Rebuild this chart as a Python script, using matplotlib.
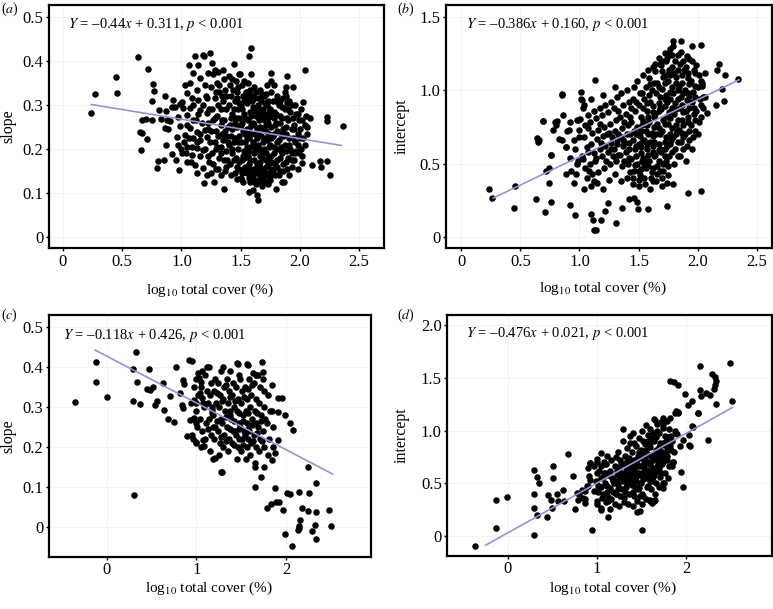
import matplotlib
matplotlib.use('Agg')
import matplotlib.pyplot as plt

plt.rcParams['font.family'] = ['Liberation Serif', 'DejaVu Serif']
plt.rcParams['mathtext.fontset'] = 'stix'

# ---------------- data ----------------
# (a) slope vs log10 total cover
a_points = [
    (0.24, 0.282), (0.27, 0.325), (0.45, 0.364), (0.453, 0.326), (0.636, 0.408), (0.72, 0.381),
    (0.76, 0.347), (0.77, 0.332), (0.75, 0.309), (0.86, 0.32), (0.81, 0.289), (0.87, 0.287),
    (0.67, 0.266), (0.70, 0.269), (0.75, 0.266), (0.825, 0.267), (0.875, 0.266), (0.90, 0.264),
    (0.65, 0.239), (0.67, 0.237), (0.712, 0.222), (0.66, 0.198), (0.865, 0.248), (0.89, 0.245),
    (0.87, 0.209), (0.80, 0.173), (0.853, 0.176), (0.79, 0.156), (0.92, 0.189), (0.98, 0.152),
    (0.955, 0.175), (0.918, 0.296), (0.946, 0.296), (0.93, 0.311), (0.99, 0.303),
    (1.115, 0.41), (1.143, 0.391), (1.185, 0.414), (1.067, 0.391), (1.10, 0.372), (1.157, 0.361),
    (1.073, 0.349), (1.03, 0.345), (1.199, 0.345), (1.227, 0.372), (1.129, 0.334), (1.044, 0.326),
    (1.087, 0.315), (1.002, 0.307), (1.143, 0.311), (1.213, 0.315), (1.016, 0.292), (1.073, 0.292),
    (1.157, 0.289), (1.213, 0.281), (0.974, 0.273), (1.044, 0.277), (1.10, 0.266), (1.171, 0.258),
    (1.227, 0.258), (0.988, 0.251), (1.073, 0.247), (1.129, 0.239), (1.199, 0.243), (0.96, 0.228),
    (1.03, 0.232), (1.10, 0.224), (1.157, 0.22), (1.213, 0.228), (0.974, 0.209), (1.044, 0.205),
    (1.129, 0.201), (1.185, 0.198), (1.002, 0.19), (1.087, 0.186), (1.157, 0.183), (1.227, 0.183),
    (1.044, 0.171), (1.115, 0.163), (1.185, 0.156), (1.129, 0.145), (1.213, 0.141), (1.19, 0.122),
    (1.02, 0.215), (1.06, 0.225), (1.09, 0.205), (1.12, 0.265), (1.14, 0.28), (1.18, 0.30),
    (1.21, 0.32), (1.05, 0.255), (1.16, 0.235), (1.20, 0.20), (1.23, 0.17), (1.10, 0.30),
    (1.00, 0.20), (1.04, 0.19), (1.08, 0.17), (1.13, 0.215),
    (1.585, 0.429), (1.574, 0.411), (1.444, 0.393), (1.495, 0.37), (1.585, 0.37), (1.757, 0.372),
    (1.89, 0.366), (2.04, 0.379), (1.94, 0.34), (1.88, 0.34), (2.227, 0.272), (2.23, 0.264),
    (2.362, 0.253), (2.086, 0.27), (2.024, 0.307), (2.05, 0.274), (2.057, 0.249), (2.23, 0.173),
    (2.17, 0.173), (2.18, 0.158), (2.25, 0.141), (2.02, 0.167), (2.10, 0.164), (2.04, 0.208),
    (1.636, 0.095), (1.645, 0.084), (1.60, 0.107), (1.566, 0.103), (1.355, 0.11), (1.276, 0.125),
    (1.467, 0.131), (1.50, 0.131), (1.73, 0.12), (1.80, 0.11), (1.867, 0.125), (1.24, 0.418),
    (1.19, 0.41), (1.35, 0.38), (1.49, 0.37),
    (1.26, 0.395), (1.27, 0.37), (1.25, 0.34), (1.28, 0.315), (1.26, 0.29), (1.27, 0.265),
    (1.25, 0.24), (1.28, 0.215), (1.26, 0.19), (1.27, 0.165), (1.25, 0.145),
    (1.31, 0.375), (1.30, 0.35), (1.32, 0.33), (1.31, 0.30), (1.30, 0.275), (1.33, 0.255),
    (1.31, 0.23), (1.30, 0.205), (1.32, 0.18), (1.31, 0.155), (1.33, 0.14),
    (1.36, 0.36), (1.37, 0.335), (1.35, 0.31), (1.38, 0.29), (1.36, 0.265), (1.37, 0.24),
    (1.35, 0.22), (1.38, 0.195), (1.36, 0.175), (1.37, 0.15),
    (1.41, 0.345), (1.42, 0.32), (1.40, 0.30), (1.43, 0.28), (1.41, 0.255), (1.42, 0.23),
    (1.40, 0.21), (1.43, 0.19), (1.41, 0.165), (1.42, 0.14), (1.40, 0.365),
    (1.46, 0.355), (1.47, 0.33), (1.45, 0.31), (1.48, 0.29), (1.46, 0.27), (1.47, 0.25),
    (1.45, 0.225), (1.48, 0.20), (1.46, 0.18), (1.47, 0.16), (1.45, 0.145),
    (1.51, 0.345), (1.52, 0.32), (1.50, 0.30), (1.53, 0.28), (1.51, 0.26), (1.52, 0.24),
    (1.50, 0.215), (1.53, 0.195), (1.51, 0.175), (1.52, 0.155), (1.50, 0.135), (1.53, 0.31),
    (1.56, 0.35), (1.57, 0.325), (1.55, 0.305), (1.58, 0.285), (1.56, 0.265), (1.57, 0.245),
    (1.55, 0.225), (1.58, 0.205), (1.56, 0.185), (1.57, 0.165), (1.55, 0.145), (1.58, 0.125),
    (1.57, 0.225), (1.55, 0.19),
    (1.61, 0.34), (1.62, 0.315), (1.60, 0.295), (1.63, 0.275), (1.61, 0.255), (1.62, 0.235),
    (1.60, 0.215), (1.63, 0.195), (1.61, 0.175), (1.62, 0.155), (1.60, 0.135), (1.63, 0.12),
    (1.62, 0.21), (1.60, 0.32),
    (1.66, 0.335), (1.67, 0.31), (1.65, 0.29), (1.68, 0.27), (1.66, 0.25), (1.67, 0.23),
    (1.65, 0.21), (1.68, 0.19), (1.66, 0.17), (1.67, 0.15), (1.65, 0.13), (1.68, 0.115),
    (1.66, 0.20), (1.67, 0.28),
    (1.71, 0.325), (1.72, 0.30), (1.70, 0.28), (1.73, 0.26), (1.71, 0.24), (1.72, 0.22),
    (1.70, 0.20), (1.73, 0.18), (1.71, 0.16), (1.72, 0.14), (1.70, 0.125), (1.72, 0.345),
    (1.71, 0.19),
    (1.76, 0.33), (1.77, 0.31), (1.75, 0.29), (1.78, 0.27), (1.76, 0.25), (1.77, 0.23),
    (1.75, 0.21), (1.78, 0.19), (1.76, 0.17), (1.77, 0.15), (1.75, 0.13), (1.76, 0.355),
    (1.81, 0.32), (1.82, 0.30), (1.80, 0.28), (1.83, 0.26), (1.81, 0.24), (1.82, 0.22),
    (1.80, 0.20), (1.83, 0.18), (1.81, 0.16), (1.82, 0.14),
    (1.86, 0.315), (1.87, 0.29), (1.85, 0.27), (1.88, 0.25), (1.86, 0.23), (1.87, 0.21),
    (1.85, 0.19), (1.88, 0.17), (1.86, 0.15), (1.87, 0.33),
    (1.91, 0.31), (1.92, 0.285), (1.90, 0.265), (1.93, 0.245), (1.91, 0.225), (1.92, 0.20),
    (1.90, 0.18), (1.93, 0.16), (1.91, 0.14),
    (1.96, 0.30), (1.97, 0.28), (1.95, 0.255), (1.98, 0.235), (1.96, 0.215), (1.97, 0.195),
    (1.95, 0.175), (1.98, 0.155),
    (2.01, 0.29), (2.02, 0.265), (2.00, 0.245), (2.03, 0.225), (2.01, 0.20), (2.02, 0.185),
    (2.04, 0.255), (2.06, 0.235),
    (1.285, 0.38), (1.29, 0.24), (1.335, 0.205), (1.345, 0.32), (1.39, 0.25), (1.385, 0.175),
    (1.435, 0.335), (1.44, 0.215), (1.485, 0.27), (1.49, 0.17), (1.535, 0.235), (1.54, 0.16),
    (1.545, 0.33), (1.585, 0.255), (1.59, 0.145), (1.595, 0.31), (1.635, 0.225), (1.64, 0.165),
    (1.645, 0.30), (1.685, 0.245), (1.69, 0.135), (1.695, 0.32), (1.735, 0.205), (1.74, 0.285),
    (1.745, 0.145), (1.785, 0.235), (1.79, 0.165), (1.795, 0.31), (1.835, 0.275), (1.84, 0.195),
    (1.845, 0.125), (1.885, 0.235), (1.89, 0.305), (1.935, 0.19), (1.94, 0.27), (1.985, 0.21),
    (1.99, 0.265), (1.555, 0.205), (1.615, 0.19), (1.665, 0.185), (1.705, 0.225), (1.755, 0.185),
    (1.32, 0.345), (1.34, 0.265), (1.33, 0.19), (1.38, 0.32), (1.39, 0.215), (1.38, 0.16),
    (1.43, 0.36), (1.44, 0.29), (1.43, 0.245), (1.44, 0.175), (1.48, 0.34), (1.49, 0.23),
    (1.48, 0.155), (1.49, 0.305), (1.53, 0.355), (1.54, 0.27), (1.53, 0.18), (1.54, 0.215),
    (1.58, 0.335), (1.59, 0.235), (1.58, 0.175), (1.59, 0.275), (1.58, 0.155), (1.63, 0.33),
    (1.64, 0.245), (1.63, 0.145), (1.64, 0.285), (1.63, 0.205), (1.68, 0.325), (1.69, 0.215),
    (1.68, 0.155), (1.69, 0.29), (1.68, 0.18), (1.73, 0.31), (1.74, 0.235), (1.73, 0.165),
    (1.74, 0.13), (1.73, 0.27), (1.78, 0.345), (1.79, 0.255), (1.78, 0.205), (1.79, 0.14),
    (1.78, 0.285), (1.83, 0.31), (1.84, 0.235), (1.83, 0.15), (1.84, 0.205), (1.88, 0.32),
    (1.89, 0.27), (1.88, 0.195), (1.89, 0.155), (1.93, 0.30), (1.94, 0.225), (1.93, 0.175),
    (1.98, 0.28), (1.99, 0.19), (2.00, 0.225), (1.29, 0.33), (1.28, 0.27), (1.29, 0.155),
    (1.23, 0.29), (1.22, 0.245), (1.24, 0.215), (1.52, 0.125), (1.57, 0.135), (1.62, 0.125),
    (1.66, 0.14), (1.71, 0.145), (1.76, 0.14), (1.60, 0.26), (1.65, 0.235), (1.70, 0.265),
    (1.55, 0.245), (1.50, 0.255), (1.45, 0.26),
    (1.465, 0.315), (1.475, 0.215), (1.515, 0.29), (1.52, 0.185), (1.565, 0.315), (1.565, 0.235),
    (1.57, 0.195), (1.605, 0.285), (1.61, 0.205), (1.615, 0.155), (1.655, 0.265), (1.655, 0.315),
    (1.66, 0.16), (1.705, 0.305), (1.71, 0.255), (1.71, 0.175), (1.75, 0.275), (1.755, 0.225),
    (1.755, 0.155), (1.80, 0.26), (1.805, 0.215), (1.81, 0.175), (1.85, 0.295), (1.855, 0.245),
    (1.86, 0.165), (1.90, 0.29), (1.905, 0.21), (1.95, 0.245), (1.955, 0.19), (1.42, 0.27),
    (1.43, 0.20), (1.38, 0.23), (1.335, 0.29), (1.34, 0.235), (1.29, 0.20), (1.605, 0.145),
    (1.655, 0.125), (1.70, 0.145), (1.565, 0.155), (1.515, 0.145),
]
a_line_x = [0.24, 2.35]
a_line_y = [0.301, 0.208]

# (b) intercept vs log10 total cover
b_points = [
    (0.236, 0.324), (0.26, 0.265), (0.45, 0.35), (0.447, 0.195), (0.63, 0.26), (0.652, 0.649),
    (0.643, 0.672), (0.69, 0.792), (0.71, 0.168), (0.72, 0.452), (0.74, 0.472), (0.74, 0.37),
    (0.756, 0.238), (0.758, 0.558), (0.848, 0.971), (0.79, 0.783), (0.80, 0.76), (0.854, 0.66),
    (0.888, 0.61), (0.888, 0.43), (0.896, 0.724), (0.921, 0.216), (0.952, 0.37), (0.963, 0.15),
    (0.986, 0.52), (0.972, 0.427), (1.014, 0.987), (1.014, 0.937), (1.006, 0.805), (0.98, 0.797),
    (1.03, 0.876), (1.096, 0.154), (1.112, 0.116), (1.126, 0.048), (1.143, 0.048), (1.129, 1.069),
    (1.18, 0.116), (1.216, 0.18), (1.24, 0.234), (1.31, 0.093), (1.357, 0.195), (1.416, 0.256),
    (1.497, 0.19), (1.458, 0.265), (1.49, 0.24), (1.584, 0.19), (1.744, 0.211), (1.74, 0.365),
    (1.79, 0.36), (1.92, 0.302), (2.025, 0.315), (2.04, 1.046), (1.927, 1.214), (2.025, 1.305),
    (1.955, 1.302), (1.857, 1.332), (1.79, 1.332), (2.18, 1.178), (2.166, 1.137), (2.21, 1.01),
    (2.22, 0.928), (2.23, 1.10), (2.345, 1.073), (2.16, 0.896), (2.076, 0.842), (2.05, 0.955),
    (0.85, 0.97), (1.02, 0.93), (0.69, 0.79), (0.81, 0.79), (0.86, 0.83), (0.91, 0.729),
    (0.66, 0.66), (0.776, 0.729), (0.826, 0.664), (0.89, 0.615), (0.76, 0.558), (0.916, 0.535),
    (0.99, 0.795), (1.00, 0.729), (1.074, 0.739), (0.93, 0.45), (0.96, 0.60), (1.00, 0.68),
    (0.98, 0.50), (1.02, 0.55), (0.95, 0.66), (0.92, 0.78),
    (1.04, 0.33), (1.06, 0.40), (1.05, 0.47), (1.03, 0.53), (1.06, 0.61), (1.04, 0.68),
    (1.05, 0.76), (1.07, 0.83), (1.04, 0.90),
    (1.10, 0.35), (1.11, 0.43), (1.09, 0.50), (1.12, 0.57), (1.10, 0.63), (1.11, 0.71),
    (1.09, 0.78), (1.12, 0.86), (1.10, 0.94),
    (1.15, 0.37), (1.16, 0.44), (1.14, 0.54), (1.17, 0.60), (1.15, 0.67), (1.16, 0.73),
    (1.14, 0.81), (1.17, 0.88),
    (1.20, 0.33), (1.21, 0.47), (1.19, 0.55), (1.22, 0.62), (1.20, 0.69), (1.21, 0.75),
    (1.19, 0.83), (1.22, 0.90), (1.20, 0.97),
    (1.25, 0.39), (1.26, 0.50), (1.24, 0.58), (1.27, 0.64), (1.25, 0.71), (1.26, 0.77),
    (1.24, 0.85), (1.27, 0.92),
    (1.30, 0.43), (1.31, 0.52), (1.29, 0.60), (1.32, 0.66), (1.30, 0.72), (1.31, 0.80),
    (1.29, 0.88), (1.32, 0.95), (1.30, 1.02),
    (1.35, 0.38), (1.36, 0.48), (1.34, 0.56), (1.37, 0.62), (1.35, 0.68), (1.36, 0.74),
    (1.34, 0.82), (1.37, 0.90), (1.35, 0.98),
    (1.40, 0.40), (1.41, 0.50), (1.39, 0.58), (1.42, 0.64), (1.40, 0.70), (1.41, 0.76),
    (1.39, 0.84), (1.42, 0.92), (1.40, 1.00),
    (1.45, 0.36), (1.46, 0.45), (1.44, 0.53), (1.47, 0.60), (1.45, 0.66), (1.46, 0.72),
    (1.44, 0.78), (1.47, 0.86), (1.45, 0.94), (1.46, 1.02),
    (1.50, 0.35), (1.51, 0.42), (1.49, 0.50), (1.52, 0.57), (1.50, 0.63), (1.51, 0.69),
    (1.49, 0.75), (1.52, 0.82), (1.50, 0.90), (1.51, 0.98), (1.49, 1.06),
    (1.55, 0.40), (1.56, 0.47), (1.54, 0.54), (1.57, 0.60), (1.55, 0.66), (1.56, 0.72),
    (1.54, 0.79), (1.57, 0.86), (1.55, 0.94), (1.56, 1.02), (1.54, 1.10),
    (1.60, 0.33), (1.61, 0.44), (1.59, 0.52), (1.62, 0.58), (1.60, 0.65), (1.61, 0.71),
    (1.59, 0.78), (1.62, 0.85), (1.60, 0.92), (1.61, 1.00), (1.59, 1.08), (1.62, 1.16),
    (1.65, 0.38), (1.66, 0.48), (1.64, 0.56), (1.67, 0.63), (1.65, 0.70), (1.66, 0.77),
    (1.64, 0.84), (1.67, 0.91), (1.65, 0.98), (1.66, 1.05), (1.64, 1.13), (1.67, 1.22),
    (1.70, 0.40), (1.71, 0.50), (1.69, 0.58), (1.72, 0.65), (1.70, 0.72), (1.71, 0.80),
    (1.69, 0.87), (1.72, 0.94), (1.70, 1.01), (1.71, 1.09), (1.69, 1.17), (1.72, 1.25),
    (1.75, 0.42), (1.76, 0.55), (1.74, 0.62), (1.77, 0.70), (1.75, 0.77), (1.76, 0.85),
    (1.74, 0.92), (1.77, 0.99), (1.75, 1.06), (1.76, 1.14), (1.74, 1.22), (1.77, 1.28),
    (1.80, 0.50), (1.81, 0.60), (1.79, 0.68), (1.82, 0.76), (1.80, 0.84), (1.81, 0.91),
    (1.79, 0.98), (1.82, 1.05), (1.80, 1.12), (1.81, 1.20), (1.79, 1.30),
    (1.85, 0.55), (1.86, 0.65), (1.84, 0.73), (1.87, 0.80), (1.85, 0.88), (1.86, 0.95),
    (1.84, 1.02), (1.87, 1.10), (1.85, 1.18), (1.86, 1.26),
    (1.90, 0.52), (1.91, 0.62), (1.89, 0.70), (1.92, 0.78), (1.90, 0.86), (1.91, 0.93),
    (1.89, 1.00), (1.92, 1.08), (1.90, 1.16), (1.91, 1.23),
    (1.95, 0.60), (1.96, 0.68), (1.94, 0.76), (1.97, 0.84), (1.95, 0.92), (1.96, 0.99),
    (1.94, 1.06), (1.97, 1.14), (1.95, 1.20),
    (2.00, 0.70), (2.01, 0.78), (1.99, 0.86), (2.02, 0.94), (2.00, 1.02), (2.01, 1.10),
    (1.99, 1.17), (2.05, 0.88), (2.06, 0.95), (2.04, 1.03), (2.06, 1.12),
    (1.075, 0.58), (1.125, 0.38), (1.175, 0.77), (1.225, 0.52), (1.275, 0.68), (1.325, 0.56),
    (1.375, 0.78), (1.425, 0.44), (1.475, 0.70), (1.525, 0.46), (1.535, 0.88), (1.575, 0.63),
    (1.585, 0.97), (1.625, 0.47), (1.63, 0.75), (1.675, 0.52), (1.68, 0.88), (1.685, 1.18),
    (1.725, 0.60), (1.73, 0.97), (1.735, 1.20), (1.775, 0.66), (1.78, 0.88), (1.785, 1.16),
    (1.825, 0.72), (1.83, 1.00), (1.835, 1.24), (1.875, 0.60), (1.88, 0.85), (1.885, 1.14),
    (1.925, 0.66), (1.93, 0.96), (1.975, 0.72), (1.98, 1.03), (2.025, 0.82), (1.655, 0.43),
    (1.705, 0.45), (1.605, 0.40), (1.555, 0.36), (1.505, 0.39),
    (1.08, 0.45), (1.13, 0.52), (1.18, 0.64), (1.23, 0.70), (1.28, 0.55), (1.33, 0.70),
    (1.33, 0.86), (1.38, 0.52), (1.38, 0.65), (1.43, 0.70), (1.43, 0.82), (1.48, 0.55),
    (1.48, 0.62), (1.48, 0.92), (1.53, 0.52), (1.53, 0.65), (1.53, 0.76), (1.58, 0.48),
    (1.58, 0.56), (1.58, 0.70), (1.58, 0.82), (1.63, 0.55), (1.63, 0.65), (1.63, 0.82),
    (1.63, 1.05), (1.68, 0.45), (1.68, 0.60), (1.68, 0.70), (1.68, 0.95), (1.73, 0.52),
    (1.73, 0.68), (1.73, 0.82), (1.73, 1.10), (1.78, 0.58), (1.78, 0.74), (1.78, 1.02),
    (1.78, 1.24), (1.83, 0.65), (1.83, 0.80), (1.83, 0.94), (1.83, 1.14), (1.88, 0.68),
    (1.88, 0.76), (1.88, 0.98), (1.88, 1.20), (1.93, 0.72), (1.93, 0.88), (1.93, 1.04),
    (1.98, 0.80), (1.98, 0.95), (1.98, 1.12), (2.03, 0.90), (2.03, 1.06), (1.45, 0.40),
    (1.50, 0.45), (1.55, 0.50), (1.62, 0.38), (1.70, 0.35), (1.75, 0.48), (1.83, 0.55),
    (1.58, 1.14), (1.64, 1.18), (1.70, 1.20), (1.76, 1.25),
    (1.47, 0.49), (1.52, 0.61), (1.52, 0.72), (1.57, 0.52), (1.57, 0.76), (1.57, 0.91),
    (1.62, 0.62), (1.62, 0.69), (1.62, 0.89), (1.67, 0.59), (1.67, 0.74), (1.67, 0.86),
    (1.67, 1.02), (1.72, 0.55), (1.72, 0.77), (1.72, 0.89), (1.72, 1.05), (1.77, 0.63),
    (1.77, 0.81), (1.77, 0.94), (1.77, 1.10), (1.82, 0.70), (1.82, 0.87), (1.82, 1.09),
    (1.87, 0.71), (1.87, 0.90), (1.87, 1.05), (1.92, 0.82), (1.92, 0.98), (1.92, 1.12),
    (1.97, 0.88), (1.42, 0.54), (1.42, 0.60), (1.37, 0.66), (1.32, 0.63), (1.27, 0.60),
    (1.44, 0.88), (1.53, 0.98), (1.60, 1.04), (1.70, 1.13),
]
b_line_x = [0.27, 2.35]
b_line_y = [0.265, 1.07]

# (c) slope vs log10 total cover, second data set
c_points = [
    (-0.357, 0.311), (-0.122, 0.412), (-0.122, 0.361), (0.0, 0.324), (0.33, 0.437), (0.294, 0.394),
    (0.339, 0.361), (0.466, 0.396), (0.287, 0.314), (0.368, 0.306), (0.443, 0.344), (0.48, 0.342),
    (0.517, 0.35), (0.63, 0.36), (0.555, 0.315), (0.536, 0.304), (0.64, 0.292), (0.685, 0.27),
    (0.748, 0.263), (0.77, 0.399), (0.704, 0.326), (0.815, 0.334), (0.834, 0.304), (0.852, 0.296),
    (0.916, 0.418), (0.953, 0.415), (0.845, 0.367), (0.86, 0.358), (0.927, 0.267), (0.972, 0.271),
    (1.0, 0.259), (0.897, 0.227), (0.964, 0.219), (1.0, 0.213), (1.084, 0.202), (1.02, 0.384),
    (1.028, 0.373), (1.046, 0.362), (1.04, 0.334), (1.058, 0.321), (0.97, 0.318), (1.0, 0.31),
    (0.301, 0.08), (1.07, 0.217), (1.118, 0.40), (1.17, 0.292), (1.18, 0.169), (1.27, 0.137),
    (1.30, 0.40), (1.448, 0.41), (1.56, 0.407), (1.737, 0.413), (1.467, 0.407), (1.58, 0.405),
    (1.635, 0.384), (1.67, 0.38), (1.746, 0.388), (1.84, 0.354), (1.914, 0.322), (1.95, 0.322),
    (1.914, 0.288), (1.99, 0.28), (2.04, 0.259), (2.08, 0.242), (1.914, 0.217), (1.877, 0.184),
    (1.84, 0.167), (1.654, 0.15), (1.717, 0.125), (1.654, 0.10), (1.28, 0.137), (1.21, 0.171),
    (2.25, 0.149), (2.34, 0.11),
    (1.785, 0.046), (1.83, 0.057), (1.89, 0.062), (1.92, 0.062), (1.88, 0.098), (1.967, 0.043),
    (1.989, -0.018), (2.07, -0.047), (2.015, 0.085), (2.044, 0.082), (2.137, -0.008), (2.144, -0.003),
    (2.15, 0.003), (2.16, 0.018), (2.144, 0.086), (2.18, 0.048), (2.25, 0.039), (2.26, 0.085),
    (2.29, -0.01), (2.32, 0.004), (2.33, 0.037), (2.33, -0.03), (2.48, 0.043), (2.507, 0.001),
    (0.95, 0.23), (0.96, 0.27), (0.94, 0.31), (0.97, 0.35),
    (1.00, 0.21), (1.01, 0.25), (0.99, 0.29), (1.02, 0.33), (1.00, 0.37),
    (1.05, 0.20), (1.06, 0.24), (1.04, 0.27), (1.07, 0.31), (1.05, 0.35), (1.06, 0.39),
    (1.10, 0.22), (1.11, 0.26), (1.09, 0.30), (1.12, 0.34), (1.10, 0.38),
    (1.15, 0.19), (1.16, 0.23), (1.14, 0.27), (1.17, 0.30), (1.15, 0.33), (1.16, 0.36), (1.14, 0.40),
    (1.20, 0.22), (1.21, 0.25), (1.19, 0.28), (1.22, 0.31), (1.20, 0.34), (1.21, 0.37),
    (1.25, 0.18), (1.26, 0.21), (1.24, 0.24), (1.27, 0.27), (1.25, 0.30), (1.26, 0.33),
    (1.24, 0.36), (1.27, 0.39),
    (1.30, 0.20), (1.31, 0.23), (1.29, 0.26), (1.32, 0.29), (1.30, 0.32), (1.31, 0.35),
    (1.35, 0.19), (1.36, 0.22), (1.34, 0.25), (1.37, 0.28), (1.35, 0.31), (1.36, 0.34),
    (1.34, 0.37), (1.37, 0.39),
    (1.40, 0.21), (1.41, 0.24), (1.39, 0.27), (1.42, 0.30), (1.40, 0.33), (1.41, 0.36),
    (1.45, 0.17), (1.46, 0.20), (1.44, 0.23), (1.47, 0.26), (1.45, 0.29), (1.46, 0.32),
    (1.44, 0.35), (1.47, 0.38),
    (1.50, 0.19), (1.51, 0.22), (1.49, 0.25), (1.52, 0.28), (1.50, 0.31), (1.51, 0.34), (1.49, 0.37),
    (1.55, 0.17), (1.56, 0.20), (1.54, 0.23), (1.57, 0.26), (1.55, 0.29), (1.56, 0.32), (1.54, 0.35),
    (1.60, 0.18), (1.61, 0.21), (1.59, 0.24), (1.62, 0.27), (1.60, 0.30), (1.61, 0.33), (1.59, 0.37),
    (1.65, 0.16), (1.66, 0.20), (1.64, 0.23), (1.67, 0.26), (1.65, 0.29), (1.66, 0.32),
    (1.64, 0.36), (1.67, 0.38),
    (1.70, 0.19), (1.71, 0.22), (1.69, 0.25), (1.72, 0.28), (1.70, 0.31), (1.71, 0.35), (1.69, 0.38),
    (1.75, 0.15), (1.76, 0.20), (1.74, 0.24), (1.77, 0.27), (1.75, 0.30), (1.76, 0.34), (1.74, 0.37),
    (1.80, 0.18), (1.81, 0.22), (1.79, 0.26), (1.82, 0.29), (1.80, 0.33),
    (1.85, 0.20), (1.86, 0.25), (1.84, 0.29),
    (1.125, 0.245), (1.175, 0.285), (1.225, 0.265), (1.275, 0.225), (1.325, 0.275), (1.375, 0.245),
    (1.425, 0.265), (1.475, 0.245), (1.525, 0.265), (1.575, 0.245), (1.625, 0.255), (1.675, 0.235),
    (1.725, 0.265), (1.525, 0.205), (1.425, 0.205), (1.325, 0.355), (1.575, 0.345), (1.625, 0.355),
    (1.28, 0.315), (1.33, 0.215), (1.38, 0.325), (1.43, 0.315), (1.48, 0.285), (1.53, 0.325),
    (1.58, 0.285), (1.63, 0.215), (1.68, 0.285), (1.73, 0.215), (1.23, 0.335), (1.18, 0.25),
    (1.13, 0.31), (1.48, 0.22), (1.58, 0.22), (1.38, 0.29), (1.43, 0.24), (1.53, 0.24),
]
c_line_x = [-0.13, 2.52]
c_line_y = [0.442, 0.132]

# (d) intercept vs log10 total cover, second data set
d_points = [
    (-0.366, -0.095), (-0.13, 0.073), (-0.13, 0.342), (-0.007, 0.368), (0.287, 0.40), (0.287, 0.263),
    (0.295, 0.621), (0.295, 0.006), (0.325, 0.555), (0.35, 0.50), (0.325, 0.193), (0.437, 0.174),
    (0.455, 0.39), (0.48, 0.342), (0.51, 0.66), (0.51, 0.548), (0.50, 0.263), (0.549, 0.40),
    (0.567, 0.326), (0.616, 0.431), (0.63, 0.326), (0.675, 0.78), (0.73, 0.564), (0.754, 0.257),
    (0.772, 0.406), (0.79, 0.342), (0.866, 0.349), (0.884, 0.47), (0.91, 0.564), (0.92, 0.69),
    (0.94, 0.057), (1.05, 0.786), (1.08, 0.68), (1.11, 0.754), (1.127, 0.177), (1.50, 0.057),
    (1.444, 0.222), (1.48, 0.374), (1.586, 0.586), (1.593, 0.342), (1.64, 0.326),
    (1.79, 1.087), (1.74, 1.119), (1.82, 1.468), (1.866, 1.458), (1.91, 1.436), (1.91, 1.166),
    (1.89, 1.182), (1.90, 0.967), (1.966, 0.906), (1.97, 0.463), (1.99, 1.35), (2.03, 0.96),
    (2.04, 0.85), (2.07, 1.04), (2.16, 1.61), (2.16, 1.388), (2.17, 1.334), (2.13, 1.166),
    (2.224, 1.356), (2.246, 0.913), (2.265, 1.341), (2.295, 1.54), (2.32, 1.509), (2.33, 1.474),
    (2.32, 1.436), (2.313, 1.395), (2.33, 1.252), (2.49, 1.642), (2.515, 1.28),
    (2.025, 1.245), (2.063, 1.277), (2.137, 1.166), (1.876, 1.172), (1.913, 1.181), (1.82, 1.118),
    (2.073, 1.033), (2.036, 0.865), (1.932, 0.849), (1.943, 0.611), (1.84, 0.659), (1.85, 0.70),
    (1.64, 1.115), (1.745, 1.023), (1.296, 1.014), (1.614, 0.31), (1.651, 0.342), (1.483, 0.231),
    (1.745, 0.452), (1.745, 0.50),
    (0.803, 0.399), (0.84, 0.358), (0.866, 0.421), (0.829, 0.437), (0.904, 0.469), (0.893, 0.643),
    (0.923, 0.691), (0.968, 0.659), (1.005, 0.729), (1.079, 0.697), (0.997, 0.596), (1.042, 0.548),
    (1.09, 0.596), (0.923, 0.532), (0.968, 0.421), (1.016, 0.469), (0.997, 0.326), (1.042, 0.241),
    (1.11, 0.469), (1.072, 0.399), (1.128, 0.326), (0.866, 0.31), (1.128, 0.596),
    (1.00, 0.30), (1.01, 0.42), (0.99, 0.52), (1.02, 0.62), (1.00, 0.70),
    (1.05, 0.26), (1.06, 0.36), (1.04, 0.46), (1.07, 0.56), (1.05, 0.66),
    (1.10, 0.32), (1.11, 0.42), (1.09, 0.50), (1.12, 0.58), (1.10, 0.68),
    (1.15, 0.25), (1.16, 0.35), (1.14, 0.45), (1.17, 0.55), (1.15, 0.62), (1.16, 0.72),
    (1.20, 0.30), (1.21, 0.40), (1.19, 0.50), (1.22, 0.58), (1.20, 0.66), (1.21, 0.75),
    (1.25, 0.28), (1.26, 0.38), (1.24, 0.48), (1.27, 0.56), (1.25, 0.64), (1.26, 0.72), (1.24, 0.80),
    (1.30, 0.32), (1.31, 0.42), (1.29, 0.52), (1.32, 0.60), (1.30, 0.68), (1.31, 0.76),
    (1.29, 0.90), (1.35, 0.30), (1.36, 0.40), (1.34, 0.50), (1.37, 0.58), (1.35, 0.66),
    (1.36, 0.74), (1.34, 0.83), (1.37, 0.95),
    (1.40, 0.28), (1.41, 0.38), (1.39, 0.48), (1.42, 0.56), (1.40, 0.64), (1.41, 0.72),
    (1.39, 0.80), (1.42, 0.88), (1.40, 0.98),
    (1.45, 0.33), (1.46, 0.44), (1.44, 0.52), (1.47, 0.60), (1.45, 0.68), (1.46, 0.76),
    (1.44, 0.85), (1.47, 0.93),
    (1.50, 0.30), (1.51, 0.40), (1.49, 0.50), (1.52, 0.58), (1.50, 0.66), (1.51, 0.74),
    (1.49, 0.82), (1.52, 0.90), (1.50, 1.00),
    (1.55, 0.35), (1.56, 0.46), (1.54, 0.55), (1.57, 0.63), (1.55, 0.70), (1.56, 0.78),
    (1.54, 0.87), (1.57, 0.96), (1.55, 1.05),
    (1.60, 0.33), (1.61, 0.44), (1.59, 0.52), (1.62, 0.60), (1.60, 0.68), (1.61, 0.76),
    (1.59, 0.84), (1.62, 0.93), (1.60, 1.02),
    (1.65, 0.40), (1.66, 0.50), (1.64, 0.58), (1.67, 0.66), (1.65, 0.74), (1.66, 0.82),
    (1.64, 0.90), (1.67, 1.00), (1.65, 1.10),
    (1.70, 0.46), (1.71, 0.56), (1.69, 0.64), (1.72, 0.72), (1.70, 0.80), (1.71, 0.88),
    (1.69, 0.98), (1.72, 1.08),
    (1.75, 0.50), (1.76, 0.60), (1.74, 0.70), (1.77, 0.78), (1.75, 0.86), (1.76, 0.95), (1.74, 1.05),
    (1.80, 0.55), (1.81, 0.66), (1.79, 0.76), (1.82, 0.85), (1.80, 0.94), (1.81, 1.02),
    (1.85, 0.70), (1.86, 0.80), (1.84, 0.90), (1.87, 1.00),
    (1.025, 0.47), (1.075, 0.60), (1.125, 0.37), (1.175, 0.52), (1.225, 0.62), (1.275, 0.44),
    (1.325, 0.55), (1.375, 0.70), (1.425, 0.60), (1.475, 0.45), (1.525, 0.70), (1.575, 0.58),
    (1.625, 0.72), (1.675, 0.62), (1.725, 0.75), (1.775, 0.90), (1.825, 0.82), (1.575, 0.90),
    (1.475, 0.80), (1.375, 0.88), (1.625, 0.98), (1.675, 1.06),
    (1.33, 0.46), (1.38, 0.53), (1.43, 0.46), (1.48, 0.58), (1.53, 0.62), (1.58, 0.70),
    (1.63, 0.64), (1.68, 0.70), (1.73, 0.68), (1.78, 0.82), (1.52, 0.38), (1.57, 0.47),
    (1.62, 0.52), (1.45, 0.72), (1.50, 0.78), (1.55, 0.82), (1.60, 0.88), (1.66, 0.94),
    (1.42, 0.66), (1.36, 0.62), (1.28, 0.60), (1.23, 0.44), (1.18, 0.42), (1.30, 0.36),
    (1.40, 0.42), (1.72, 0.60), (1.78, 0.72), (1.83, 0.95),
    (1.22, 0.52), (1.27, 0.68), (1.32, 0.64), (1.34, 0.71), (1.38, 0.60), (1.43, 0.62),
    (1.44, 0.56), (1.47, 0.66), (1.48, 0.50), (1.52, 0.54), (1.53, 0.66), (1.54, 0.74),
    (1.58, 0.62), (1.59, 0.56), (1.63, 0.56), (1.64, 0.78), (1.68, 0.76), (1.69, 0.84),
    (1.73, 0.80), (1.74, 0.88),
]
d_line_x = [-0.25, 2.52]
d_line_y = [-0.09, 1.22]

equations = [
    '$Y$ = \u20130.44$x$ + 0.311, $p$ < 0.001',
    '$Y$ = \u20130.386$x$ + 0.160, $p$ < 0.001',
    '$Y$ = \u20130.118$x$ + 0.426, $p$ < 0.001',
    '$Y$ = \u20130.476$x$ + 0.021, $p$ < 0.001',
]
y_labels = ['slope', 'intercept', 'slope', 'intercept']
panel_tags = ['($a$)', '($b$)', '($c$)', '($d$)']

xticks_top = [0, 0.5, 1.0, 1.5, 2.0, 2.5]
xticklabels_top = ['0', '0.5', '1.0', '1.5', '2.0', '2.5']
xticks_bottom = [0, 1, 2]
xticklabels_bottom = ['0', '1', '2']
slope_ticks = [0, 0.1, 0.2, 0.3, 0.4, 0.5]
slope_ticklabels = ['0', '0.1', '0.2', '0.3', '0.4', '0.5']
b_yticks = [0, 0.5, 1.0, 1.5]
b_yticklabels = ['0', '0.5', '1.0', '1.5']
d_yticks = [0, 0.5, 1.0, 1.5, 2.0]
d_yticklabels = ['0', '0.5', '1.0', '1.5', '2.0']

# ---------------- drawing ----------------
fig = plt.figure(figsize=(7.73, 6.09), dpi=100)

panels = [
    # rect, points, line x, line y, xlim, ylim, xticks, xlabels, yticks, ylabels,
    # equation pos, xlabel pos, ylabel x, tag pos
    ([0.0634, 0.5928, 0.4334, 0.399], a_points, a_line_x, a_line_y, (-0.118, 2.71), (-0.025, 0.527),
     xticks_top, xticklabels_top, slope_ticks, slope_ticklabels, (0.057, 0.918), (0.48, -0.14), -0.096,
     (0.001, 0.984)),
    ([0.577, 0.5928, 0.4217, 0.399], b_points, b_line_x, b_line_y, (-0.13, 2.63), (-0.075, 1.58),
     xticks_top, xticklabels_top, b_yticks, b_yticklabels, (0.06, 0.918), (0.48, -0.13), -0.11,
     (0.513, 0.984)),
    ([0.063, 0.0859, 0.417, 0.3969], c_points, c_line_x, c_line_y, (-0.65, 2.95), (-0.075, 0.53),
     xticks_bottom, xticklabels_bottom, slope_ticks, slope_ticklabels, (0.043, 0.917), (0.496, -0.095), -0.099,
     (0.001, 0.483)),
    ([0.5787, 0.0875, 0.4196, 0.3953], d_points, d_line_x, d_line_y, (-0.68, 2.96), (-0.19, 2.10),
     xticks_bottom, xticklabels_bottom, d_yticks, d_yticklabels, (0.058, 0.925), (0.51, -0.098), -0.115,
     (0.513, 0.483)),
]

for i, (rect, pts, lx, ly, xlim, ylim, xt, xtl, yt, ytl, tpos, xlpos, ylx, tagpos) in enumerate(panels):
    ax = fig.add_axes(rect)
    xs, ys = zip(*pts)
    ax.scatter(xs, ys, s=22, c='black', linewidths=0, zorder=2)
    ax.plot(lx, ly, color='#8e97d6', lw=1.2, zorder=3)
    ax.set_xlim(*xlim)
    ax.set_ylim(*ylim)
    ax.set_xticks(xt)
    ax.set_xticklabels(xtl)
    ax.set_yticks(yt)
    ax.set_yticklabels(ytl)
    ax.grid(color='#f3f3f3', lw=0.7)
    ax.set_axisbelow(True)
    for sp in ax.spines.values():
        sp.set_linewidth(1.6)
    ax.tick_params(direction='out', length=2.5, width=1.0, labelsize=12, pad=1.5)
    ax.text(tpos[0], tpos[1], equations[i], transform=ax.transAxes, fontsize=10.5,
            ha='left', va='center')
    ax.set_xlabel('log$_{10}$ total cover (%)', fontsize=11)
    ax.xaxis.set_label_coords(xlpos[0], xlpos[1])
    ax.set_ylabel(y_labels[i], fontsize=11.5)
    ax.yaxis.set_label_coords(ylx, 0.5)
    fig.text(tagpos[0], tagpos[1], panel_tags[i], fontsize=10, ha='left', va='center')

fig.savefig('out.png', dpi=100)
